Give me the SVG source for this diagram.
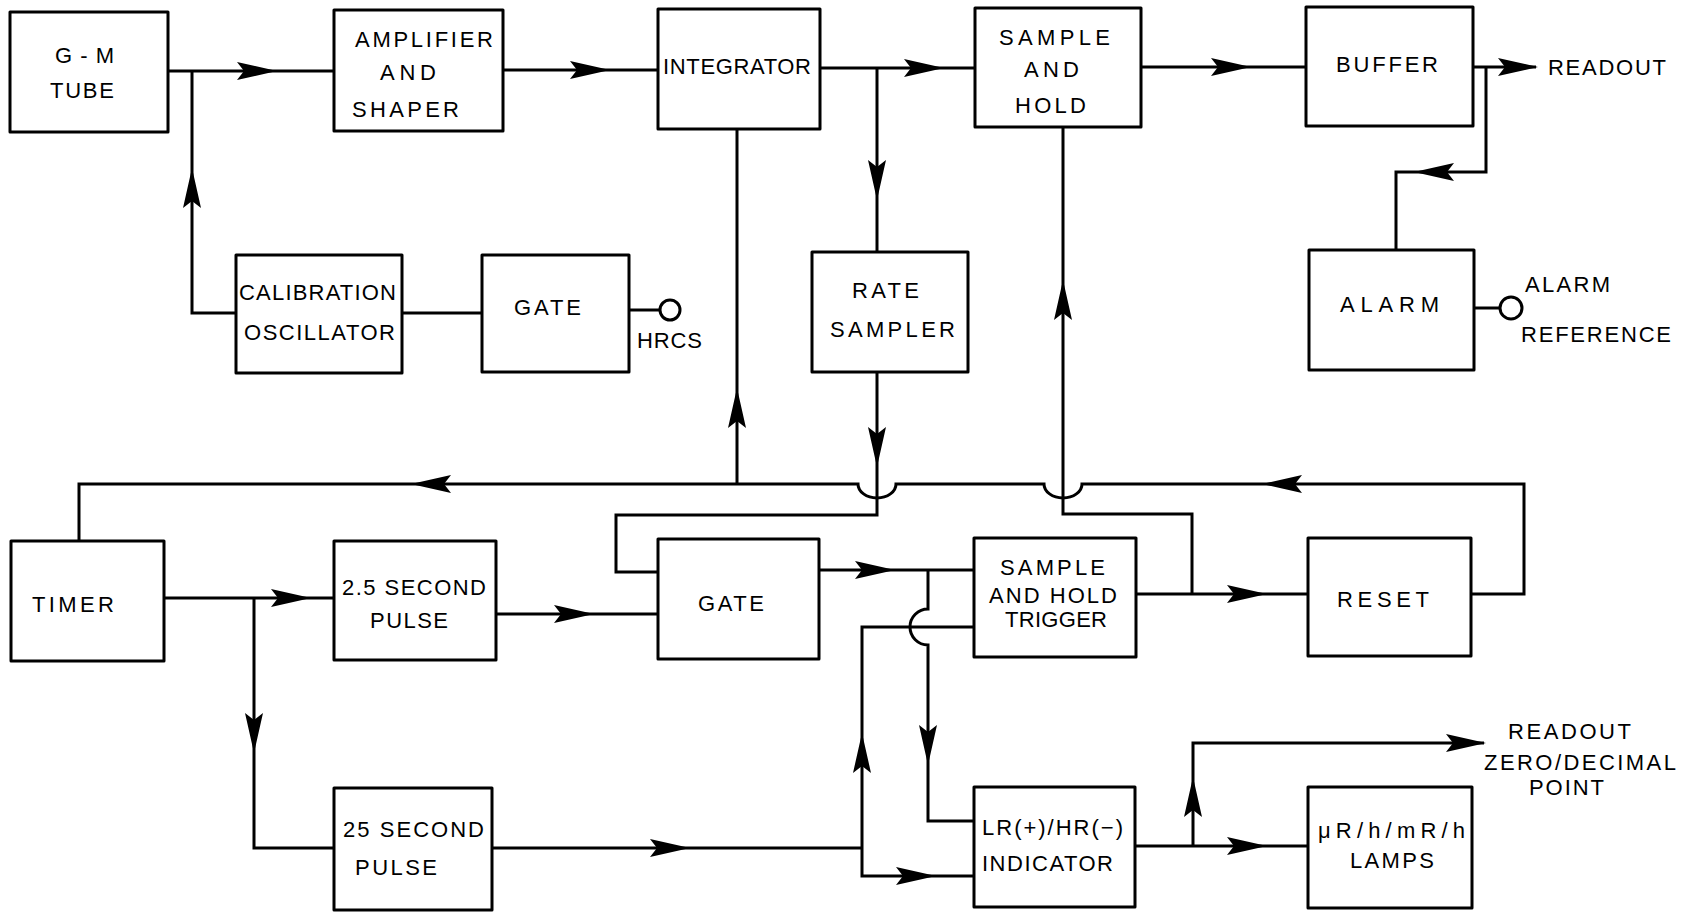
<svg xmlns="http://www.w3.org/2000/svg" xmlns:xlink="http://www.w3.org/1999/xlink" width="1690" height="912" viewBox="0 0 1690 912">
<style>
.box{fill:#fff;stroke:#000;stroke-width:3;stroke-linejoin:round}
.t{font-family:"Liberation Sans",Arial,sans-serif;font-size:22px;fill:#000}
.ln{fill:none;stroke:#000;stroke-width:3;stroke-linejoin:miter}
.term{fill:#fff;stroke:#000;stroke-width:3}
</style>
<defs>
<path id="ah" d="M0,0 L-40,-9 L-33,0 L-40,9 Z" fill="#000" stroke="none"/>
</defs>
<rect width="1690" height="912" fill="#fff"/>

<g id="connectors">
<g class="ln">
<path d="M168,71 H334"/>
<path d="M236,313 H192 V71"/>
<path d="M402,313 H482"/>
<path d="M629,310 H660"/>
<path d="M503,70 H658"/>
<path d="M820,68 H975"/>
<path d="M877,68 V252"/>
<path d="M877,372 V515 H616 V572 H658"/>
<path d="M1141,67 H1306"/>
<path d="M1473,67 H1536"/>
<path d="M1486,67 V172 H1396 V250"/>
<path d="M1474,308 H1500"/>
<path d="M737,484 V129"/>
<path d="M1471,594 H1524 V484 H1082 A19 14 0 0 1 1044 484 H896 A19 14 0 0 1 858 484 H79 V541"/>
<path d="M1192,594 V514 H1063 V127"/>
<path d="M1136,594 H1308"/>
<path d="M164,598 H334"/>
<path d="M254,598 V848 H334"/>
<path d="M496,614 H658"/>
<path d="M819,570 H974"/>
<path d="M928,570 V609 A18 18 0 0 0 928 645 V821 H974"/>
<path d="M974,627 H862 V876 H974"/>
<path d="M492,848 H862"/>
<path d="M1135,846 H1308"/>
<path d="M1193,846 V743 H1484"/>
</g>
<circle class="term" cx="670" cy="310" r="10"/>
<circle class="term" cx="1511" cy="308" r="11"/>
<use xlink:href="#ah" transform="translate(277,71)"/>
<use xlink:href="#ah" transform="translate(192,168) rotate(-90)"/>
<use xlink:href="#ah" transform="translate(610,70)"/>
<use xlink:href="#ah" transform="translate(944,68)"/>
<use xlink:href="#ah" transform="translate(877,200) rotate(90)"/>
<use xlink:href="#ah" transform="translate(877,467) rotate(90)"/>
<use xlink:href="#ah" transform="translate(1251,67)"/>
<use xlink:href="#ah" transform="translate(1538,67)"/>
<use xlink:href="#ah" transform="translate(1414,172) rotate(180)"/>
<use xlink:href="#ah" transform="translate(737,388) rotate(-90)"/>
<use xlink:href="#ah" transform="translate(1262,484) rotate(180)"/>
<use xlink:href="#ah" transform="translate(411,484) rotate(180)"/>
<use xlink:href="#ah" transform="translate(1063,280) rotate(-90)"/>
<use xlink:href="#ah" transform="translate(1267,594)"/>
<use xlink:href="#ah" transform="translate(311,598)"/>
<use xlink:href="#ah" transform="translate(254,753) rotate(90)"/>
<use xlink:href="#ah" transform="translate(594,614)"/>
<use xlink:href="#ah" transform="translate(895,570)"/>
<use xlink:href="#ah" transform="translate(928,765) rotate(90)"/>
<use xlink:href="#ah" transform="translate(862,733) rotate(-90)"/>
<use xlink:href="#ah" transform="translate(936,876)"/>
<use xlink:href="#ah" transform="translate(690,848)"/>
<use xlink:href="#ah" transform="translate(1267,846)"/>
<use xlink:href="#ah" transform="translate(1193,777) rotate(-90)"/>
<use xlink:href="#ah" transform="translate(1486,743)"/>
</g>

<g id="gm-tube">
<rect class="box" x="10" y="12" width="158" height="120"/>
<text class="t" x="55" y="63" textLength="59" lengthAdjust="spacing">G-M</text>
<text class="t" x="50" y="98" textLength="64" lengthAdjust="spacing">TUBE</text>
</g>
<g id="amplifier">
<rect class="box" x="334" y="10" width="169" height="121"/>
<text class="t" x="355" y="47" textLength="138" lengthAdjust="spacing">AMPLIFIER</text>
<text class="t" x="380" y="80" textLength="56" lengthAdjust="spacing">AND</text>
<text class="t" x="352" y="117" textLength="107" lengthAdjust="spacing">SHAPER</text>
</g>
<g id="integrator">
<rect class="box" x="658" y="9" width="162" height="120"/>
<text class="t" x="663" y="74" textLength="148" lengthAdjust="spacing">INTEGRATOR</text>
</g>
<g id="sample-hold">
<rect class="box" x="975" y="8" width="166" height="119"/>
<text class="t" x="999" y="45" textLength="111" lengthAdjust="spacing">SAMPLE</text>
<text class="t" x="1024" y="77" textLength="55" lengthAdjust="spacing">AND</text>
<text class="t" x="1015" y="113" textLength="71" lengthAdjust="spacing">HOLD</text>
</g>
<g id="buffer">
<rect class="box" x="1306" y="7" width="167" height="119"/>
<text class="t" x="1336" y="72" textLength="102" lengthAdjust="spacing">BUFFER</text>
</g>
<g id="readout">
<text class="t" x="1548" y="75" textLength="118" lengthAdjust="spacing">READOUT</text>
</g>
<g id="calibration-oscillator">
<rect class="box" x="236" y="255" width="166" height="118"/>
<text class="t" x="239" y="300" textLength="157" lengthAdjust="spacing">CALIBRATION</text>
<text class="t" x="244" y="340" textLength="151" lengthAdjust="spacing">OSCILLATOR</text>
</g>
<g id="gate-hrcs">
<rect class="box" x="482" y="255" width="147" height="117"/>
<text class="t" x="514" y="315" textLength="67" lengthAdjust="spacing">GATE</text>
</g>
<g id="hrcs">
<text class="t" x="637" y="348" textLength="65" lengthAdjust="spacing">HRCS</text>
</g>
<g id="rate-sampler">
<rect class="box" x="812" y="252" width="156" height="120"/>
<text class="t" x="852" y="298" textLength="67" lengthAdjust="spacing">RATE</text>
<text class="t" x="830" y="337" textLength="125" lengthAdjust="spacing">SAMPLER</text>
</g>
<g id="alarm">
<rect class="box" x="1309" y="250" width="165" height="120"/>
<text class="t" x="1340" y="312" textLength="99" lengthAdjust="spacing">ALARM</text>
</g>
<g id="alarm-reference">
<text class="t" x="1525" y="292" textLength="85" lengthAdjust="spacing">ALARM</text>
<text class="t" x="1521" y="342" textLength="150" lengthAdjust="spacing">REFERENCE</text>
</g>
<g id="timer">
<rect class="box" x="11" y="541" width="153" height="120"/>
<text class="t" x="32" y="612" textLength="82" lengthAdjust="spacing">TIMER</text>
</g>
<g id="pulse-2-5">
<rect class="box" x="334" y="541" width="162" height="119"/>
<text class="t" x="342" y="595" textLength="144" lengthAdjust="spacing">2.5 SECOND</text>
<text class="t" x="370" y="628" textLength="78" lengthAdjust="spacing">PULSE</text>
</g>
<g id="gate">
<rect class="box" x="658" y="539" width="161" height="120"/>
<text class="t" x="698" y="611" textLength="66" lengthAdjust="spacing">GATE</text>
</g>
<g id="sample-hold-trigger">
<rect class="box" x="974" y="538" width="162" height="119"/>
<text class="t" x="1000" y="575" textLength="105" lengthAdjust="spacing">SAMPLE</text>
<text class="t" x="989" y="603" textLength="128" lengthAdjust="spacing">AND HOLD</text>
<text class="t" x="1005" y="627" textLength="102" lengthAdjust="spacing">TRIGGER</text>
</g>
<g id="reset">
<rect class="box" x="1308" y="538" width="163" height="118"/>
<text class="t" x="1337" y="607" textLength="92" lengthAdjust="spacing">RESET</text>
</g>
<g id="pulse-25">
<rect class="box" x="334" y="788" width="158" height="122"/>
<text class="t" x="343" y="837" textLength="141" lengthAdjust="spacing">25 SECOND</text>
<text class="t" x="355" y="875" textLength="82" lengthAdjust="spacing">PULSE</text>
</g>
<g id="indicator">
<rect class="box" x="974" y="787" width="161" height="120"/>
<text class="t" x="982" y="835" textLength="141" lengthAdjust="spacing">LR(+)/HR(−)</text>
<text class="t" x="982" y="871" textLength="131" lengthAdjust="spacing">INDICATOR</text>
</g>
<g id="lamps">
<rect class="box" x="1308" y="787" width="164" height="121"/>
<text class="t" x="1318" y="838" textLength="147" lengthAdjust="spacing">μR/h/mR/h</text>
<text class="t" x="1350" y="868" textLength="84" lengthAdjust="spacing">LAMPS</text>
</g>
<g id="readout-zero-decimal">
<text class="t" x="1508" y="739" textLength="123" lengthAdjust="spacing">READOUT</text>
<text class="t" x="1484" y="770" textLength="192" lengthAdjust="spacing">ZERO/DECIMAL</text>
<text class="t" x="1529" y="795" textLength="75" lengthAdjust="spacing">POINT</text>
</g>
</svg>
